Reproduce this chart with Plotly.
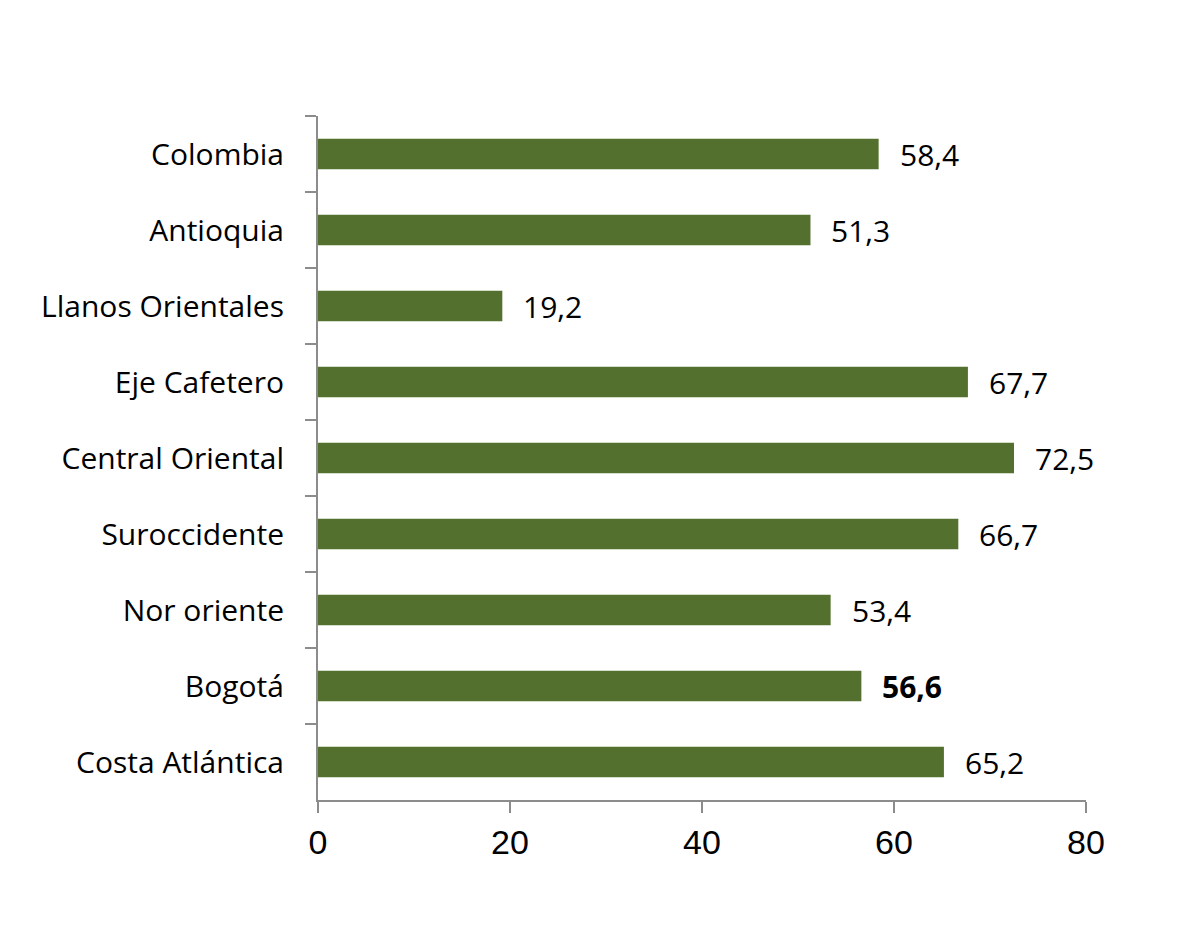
import plotly.graph_objects as go

regions = ["Colombia", "Antioquia", "Llanos Orientales", "Eje Cafetero",
           "Central Oriental", "Suroccidente", "Nor oriente", "Bogotá",
           "Costa Atlántica"]
values = [58.4, 51.3, 19.2, 67.7, 72.5, 66.7, 53.4, 56.6, 65.2]
bold_region = "Bogotá"
x_ticks = [0, 20, 40, 60, 80]

bar_color = "#53702F"
axis_color = "#8C8C8C"

fig = go.Figure()
fig.add_trace(go.Bar(
    y=regions, x=values, orientation="h",
    marker=dict(color=bar_color, line=dict(width=0)),
    hoverinfo="x+y",
))

for r, v in zip(regions, values):
    label = f"{v:.1f}".replace(".", ",")
    if r == bold_region:
        label = f"<b>{label}</b>"
    fig.add_annotation(x=v, y=r, text=label, showarrow=False,
                       xanchor="left", xshift=19,
                       font=dict(family="Open Sans, Noto Sans, sans-serif", size=30, color="#000"))

fig.update_layout(
    width=1200, height=927,
    margin=dict(l=310, r=122, t=108, b=135),
    paper_bgcolor="white", plot_bgcolor="white",
    bargap=0.6,
    showlegend=False,
    xaxis=dict(range=[0, 80], tickvals=x_ticks, ticks="outside", ticklen=11,
               tickcolor=axis_color, tickwidth=2, showline=True, linecolor=axis_color,
               linewidth=2, showgrid=False, zeroline=False,
               tickfont=dict(family="Liberation Sans, Arial, sans-serif", size=34, color="#000"),
               ticklabelstandoff=0),
    yaxis=dict(categoryorder="array", categoryarray=regions, autorange="reversed",
               ticks="outside", ticklen=11, tickcolor=axis_color, tickwidth=2,
               tickson="boundaries", showline=True, linecolor=axis_color, linewidth=2,
               showgrid=False, zeroline=False,
               tickfont=dict(family="Open Sans, Noto Sans, sans-serif", size=30, color="#000"),
               ticklabelstandoff=26),
)

fig.write_html("out.html")
